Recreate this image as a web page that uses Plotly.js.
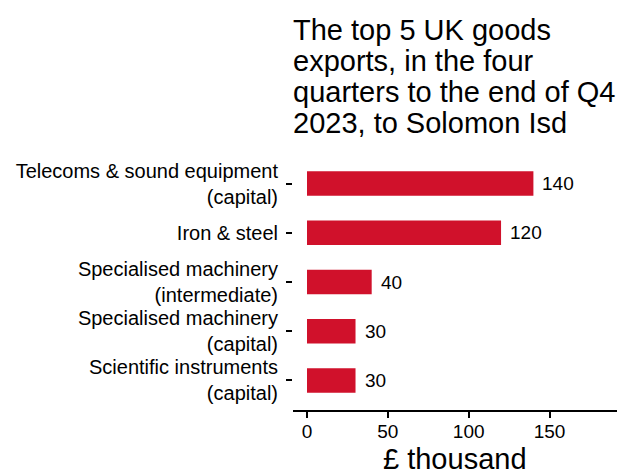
<!DOCTYPE html>
<html>
<head>
<meta charset="utf-8">
<script src="https://cdn.plot.ly/plotly-3.0.1.min.js"></script>
<style>html,body{margin:0;padding:0;background:#fff;}#chart{width:622px;height:472px;}</style>
</head>
<body>
<div id="chart"></div>
<script>
const categories = [
  "Telecoms & sound equipment<br>(capital)",
  "Iron & steel",
  "Specialised machinery<br>(intermediate)",
  "Specialised machinery<br>(capital)",
  "Scientific instruments<br>(capital)"
];
const values = [140, 120, 40, 30, 30];
const xTicks = [0, 50, 100, 150];
const titleLines = [
  "The top 5 UK goods",
  "exports, in the four",
  "quarters to the end of Q4",
  "2023, to Solomon Isd"
];
const xAxisTitle = "£ thousand";

const FONT = "'Liberation Sans', Arial, sans-serif";
const annotations = [];
values.forEach((v, i) => {
  annotations.push({
    x: v, y: categories[i], xref: "x", yref: "y",
    text: String(v), showarrow: false, xanchor: "left", yanchor: "middle",
    xshift: 7, font: {family: FONT, size: 19, color: "#000"}
  });
});
const lineY = [1.4834, 1.3626, 1.2417, 1.1209];
titleLines.forEach((t, i) => {
  annotations.push({
    x: 0, y: lineY[i], xref: "paper", yref: "paper",
    text: t, showarrow: false, xanchor: "left", yanchor: "middle",
    xshift: -2, font: {family: FONT, size: 29, color: "#000"}
  });
});
annotations.push({
  x: 0.5, y: -0.19, xref: "paper", yref: "paper",
  text: xAxisTitle, showarrow: false, xanchor: "center", yanchor: "middle",
  font: {family: FONT, size: 29, color: "#000"}
});

const data = [{
  type: "bar",
  orientation: "h",
  x: values,
  y: categories,
  width: 0.5,
  marker: {color: "#d0112b"},
  hoverinfo: "x+y"
}];

const layout = {
  width: 622, height: 472,
  margin: {l: 293, r: 5, t: 153.5, b: 62, pad: 0},
  paper_bgcolor: "#fff", plot_bgcolor: "#fff",
  showlegend: false,
  font: {family: FONT, color: "#000"},
  xaxis: {
    range: [-8.66, 191.7],
    tickvals: xTicks,
    ticktext: xTicks.map(String),
    showgrid: false, zeroline: false,
    showline: true, linecolor: "#000", linewidth: 2,
    ticks: "outside", ticklen: 6, tickwidth: 2, tickcolor: "#000",
    ticklabelstandoff: -3,
    tickfont: {family: FONT, size: 19, color: "#000"},
    automargin: false, fixedrange: true
  },
  yaxis: {
    categoryorder: "array",
    categoryarray: categories.slice().reverse(),
    range: [-0.6, 4.6],
    showgrid: false, zeroline: false, showline: false,
    ticks: "outside", ticklen: 6, tickwidth: 2, tickcolor: "#000",
    ticklabelstandoff: 4,
    tickfont: {family: FONT, size: 20, color: "#000"},
    automargin: false, fixedrange: true
  },
  annotations: annotations
};

Plotly.newPlot("chart", data, layout, {displayModeBar: false, staticPlot: true});
</script>
</body>
</html>
